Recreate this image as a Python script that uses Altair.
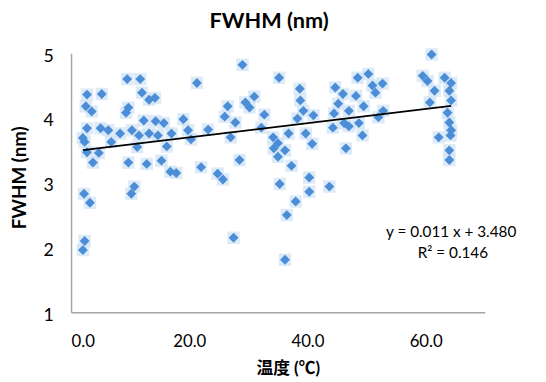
import altair as alt
import pandas as pd

# Temperature (°C) and FWHM (nm) values
temp = [9.5, 11.7, 5.2, 2.7, 2.5, 3.5, 12.0, 13.2, 14.2, 9.7, 9.3, 12.3, 14.3, 15.7,
        2.7, 5.0, 6.3, 8.3, 10.3, 11.5, 13.2, 14.7, 17.0, 2.0, 2.3, 6.8, 11.2, 16.2,
        2.7, 4.7, 3.7, 9.7, 12.8, 15.3, 16.8, 17.8, 2.2, 3.2, 10.7, 10.2, 2.3, 2.0,
        29.0, 21.3, 35.2, 26.5, 26.0, 27.8, 29.5, 31.0, 30.2, 32.7, 19.0, 19.8, 20.3,
        23.2, 27.0, 32.2, 34.2, 34.3, 35.0, 28.5, 22.0, 24.8, 25.7, 35.3, 27.5,
        40.3, 40.3, 43.7, 38.0, 36.5, 36.2, 38.7, 38.8, 39.3, 41.0, 38.3, 39.7, 40.8,
        36.8, 35.0, 36.2, 37.3, 44.7, 46.0, 48.5, 50.3, 51.0, 52.7, 45.2, 48.2, 49.5,
        47.0, 44.5, 46.2, 44.3, 47.0, 48.7, 49.3, 46.5, 52.0, 51.5, 52.8,
        61.0, 59.5, 60.3, 61.5, 60.7, 63.2, 64.3, 64.0, 64.3, 63.7, 64.0, 64.3, 62.2,
        64.2, 64.0, 64.0]
fwhm = [4.60, 4.60, 4.37, 4.36, 4.18, 4.10, 4.39, 4.28, 4.31, 4.16, 4.08, 3.96, 3.95, 3.92,
        3.84, 3.84, 3.81, 3.76, 3.81, 3.73, 3.76, 3.73, 3.76, 3.69, 3.63, 3.63, 3.55, 3.56,
        3.47, 3.46, 3.31, 3.31, 3.29, 3.34, 3.17, 3.15, 2.83, 2.69, 2.94, 2.83, 2.10, 1.96,
        4.82, 4.54, 4.62, 4.18, 4.02, 3.93, 4.24, 4.33, 4.16, 4.05, 3.98, 3.81, 3.67,
        3.82, 3.70, 3.85, 3.70, 3.53, 3.40, 3.35, 3.24, 3.14, 3.05, 2.98, 2.15,
        3.08, 2.86, 2.94, 2.71, 2.50, 1.81, 4.45, 4.27, 4.11, 4.04, 3.99, 3.76, 3.60,
        3.76, 3.61, 3.50, 3.26, 4.47, 4.37, 4.62, 4.68, 4.50, 4.53, 4.22, 4.34, 4.18,
        4.11, 4.07, 3.92, 3.85, 3.87, 3.92, 3.73, 3.53, 4.01, 4.39, 4.11,
        4.98, 4.65, 4.57, 4.42, 4.24, 4.62, 4.54, 4.42, 4.27, 4.08, 3.93, 3.81, 3.70,
        3.73, 3.50, 3.35]

slope = 0.011
intercept = 3.480
eq_labels = ["y = 0.011 x + 3.480", "R² = 0.146"]
eq_x = [64.3, 64.6]
eq_y = [2.24, 1.91]

x_ticks = [0, 20, 40, 60]
y_ticks = [1, 2, 3, 4, 5]

df = pd.DataFrame({"temp": temp, "fwhm": fwhm})
xmin, xmax = min(temp), max(temp)
line_df = pd.DataFrame({"temp": [xmin, xmax],
                        "fwhm": [intercept + slope * xmin, intercept + slope * xmax]})
ann_df = pd.DataFrame({"temp": eq_x, "fwhm": eq_y, "label": eq_labels})

FONT = "Lato, 'Noto Sans CJK JP', sans-serif"
xscale = alt.Scale(domain=[0, 70], nice=False, zero=False)
yscale = alt.Scale(domain=[1, 5], nice=False, zero=False)

xaxis = alt.Axis(values=x_ticks, format=".1f", title="温度 (℃)", grid=False, ticks=False,
                 domainColor="#a6a6a6", domainWidth=1.5, labelFontSize=17, labelFont=FONT,
                 labelColor="#000000", labelPadding=22, titleFont=FONT, titleFontSize=17,
                 titleFontWeight="bold", titleColor="#000000", titleX=220, titleY=57,
                 titleBaseline="middle", titleAlign="center")
yaxis = alt.Axis(values=y_ticks, format="d", title="FWHM (nm)", grid=False, ticks=False,
                 domainColor="#a6a6a6", domainWidth=1.5, labelFontSize=18, labelFont=FONT,
                 labelColor="#000000", labelPadding=18, labelOffset=3, titleFont=FONT,
                 titleFontSize=19, titleFontWeight="bold", titleColor="#000000",
                 titleX=-52, titleY=126, titleAngle=270, titleBaseline="middle",
                 titleAlign="center")

base = alt.Chart(df).encode(
    x=alt.X("temp:Q", scale=xscale, axis=xaxis),
    y=alt.Y("fwhm:Q", scale=yscale, axis=yaxis),
)
halo = base.mark_square(size=160, color="#cfe2f5", opacity=0.7, strokeWidth=0)
core = base.mark_point(shape="diamond", filled=True, size=100, color="#4b8dd7", opacity=1)

trend = alt.Chart(line_df).mark_line(color="#000000", strokeWidth=1.8).encode(
    x=alt.X("temp:Q", scale=xscale), y=alt.Y("fwhm:Q", scale=yscale))

ann = alt.Chart(ann_df).mark_text(font=FONT, fontSize=15.5, align="center",
                                  baseline="middle", color="#000000").encode(
    x=alt.X("temp:Q", scale=xscale), y=alt.Y("fwhm:Q", scale=yscale), text="label:N")

chart = alt.layer(halo, core, trend, ann).properties(
    width=420, height=263,
    title=alt.TitleParams("FWHM (nm)", font=FONT, fontSize=22, fontWeight="bold",
                          anchor="middle", dx=-9, offset=15, color="#000000"),
    autosize=alt.AutoSizeParams(type="none"),
    padding={"left": 64, "top": 43, "right": 54, "bottom": 70},
).configure_view(stroke=None)

chart.save("out.html", embed_options={"renderer": "svg", "actions": False})
